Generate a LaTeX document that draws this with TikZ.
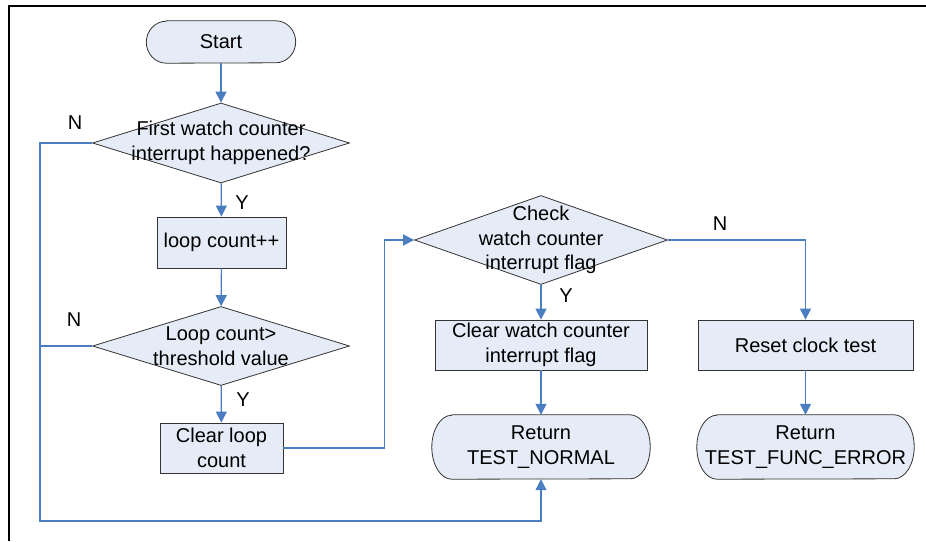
\documentclass[tikz,border=0pt]{standalone}
\usepackage{fontspec}
\setmainfont{Liberation Sans}
\usetikzlibrary{positioning,shapes.geometric,arrows.meta,backgrounds}
\definecolor{boxfill}{RGB}{229,236,247}
\definecolor{flowblue}{RGB}{74,126,193}
\tikzset{
  process/.style={shape=rectangle,draw=black!80,fill=boxfill,
    line width=0.8pt,inner sep=0pt,align=center},
  decision/.style={shape=diamond,draw=black!80,fill=boxfill,
    line width=0.8pt,inner sep=0pt},
  terminal/.style={shape=rectangle,inner sep=0pt,align=center},
  termshape/.style={draw=black!80,fill=boxfill,line width=0.8pt},
  flow/.style={draw=flowblue,line width=1.2pt},
  flowarrow/.style={flow,-{Triangle[length=11pt,width=11pt]}},
  lbl/.style={inner sep=0pt,align=center}
}

\begin{document}
\begin{tikzpicture}[x=1pt,y=-1pt,font=\fontsize{20}{24.5}\selectfont]
    \useasboundingbox (0,0) rectangle (926,541);
    % frame
    \draw[line width=2.5pt] (9,541) -- (9,6) -- (926,6);

    % left column
    \node (start) [terminal,minimum width=149pt,minimum height=42pt] at (221,42) {Start};
    \node (d1) [decision,minimum width=257pt,minimum height=80pt] at (221,143) {};
    \node (d1t) [lbl] at (d1) {First watch counter\\interrupt happened?};
    \node (loop) [process,minimum width=129pt,minimum height=51pt] at (221.5,242.5) {loop count++};
    \node (d2) [decision,minimum width=257pt,minimum height=79pt] at (221,346) {};
    \node (d2t) [lbl] at (d2) {Loop count>\\threshold value};
    \node (clr) [process,minimum width=123pt,minimum height=50pt] at (221.5,448) {Clear loop\\count};

    % middle column
    \node (d3) [decision,minimum width=253pt,minimum height=89pt] at (541,240) {};
    \node (d3t) [lbl] at (d3) {Check\\watch counter\\interrupt flag};
    \node (clrf) [process,minimum width=212pt,minimum height=50pt] at (541,345) {Clear watch counter\\interrupt flag};
    \node (retn) [terminal,minimum width=218pt,minimum height=64pt] at (541,447) {Return\\TEST\_NORMAL};

    % right column
    \node (rst) [process,minimum width=215pt,minimum height=50pt] at (805.5,345) {Reset clock test};
    \node (rete) [terminal,minimum width=217pt,minimum height=64pt] at (805.5,447) {Return\\TEST\_FUNC\_ERROR};

    % terminal outlines
    \begin{scope}[on background layer]
      \foreach \t/\r in {start/21pt,retn/32pt,rete/32pt}
        \path[termshape] ([xshift=20pt]\t.north west) -- ([xshift=-20pt]\t.north east)
          arc[start angle=90,end angle=-90,x radius=20pt,y radius=\r]
          -- ([xshift=20pt]\t.south west)
          arc[start angle=270,end angle=90,x radius=20pt,y radius=\r] -- cycle;
    \end{scope}

    % labels
    \node (n1) [lbl] at (75,123) {N};
    \node (y1) [lbl] at (242,203) {Y};
    \node (n2) [lbl] at (74,320) {N};
    \node (y2) [lbl] at (243,400) {Y};
    \node (y3) [lbl] at (566,296) {Y};
    \node (n3) [lbl] at (720,224) {N};

    \coordinate (lft) at (40,521);

    % connectors
    \draw[flowarrow] (start) -- (d1);
    \draw[flowarrow] (d1) -- (loop);
    \draw[flowarrow] (loop) -- (d2);
    \draw[flowarrow] (d2) -- (clr);
    \draw[flowarrow] (clr.east) -| ([xshift=-30pt]d3.west) -- (d3.west);
    \draw[flowarrow] (d3) -- (clrf);
    \draw[flowarrow] (clrf) -- (retn);
    \draw[flowarrow] (d3.east) -| (rst.north);
    \draw[flowarrow] (rst) -- (rete);
    \draw[flowarrow] (d1.west) -| (lft) -| (retn.south);
    \draw[flow] (d2.west) -- (d2.west -| lft);
\end{tikzpicture}
\end{document}
